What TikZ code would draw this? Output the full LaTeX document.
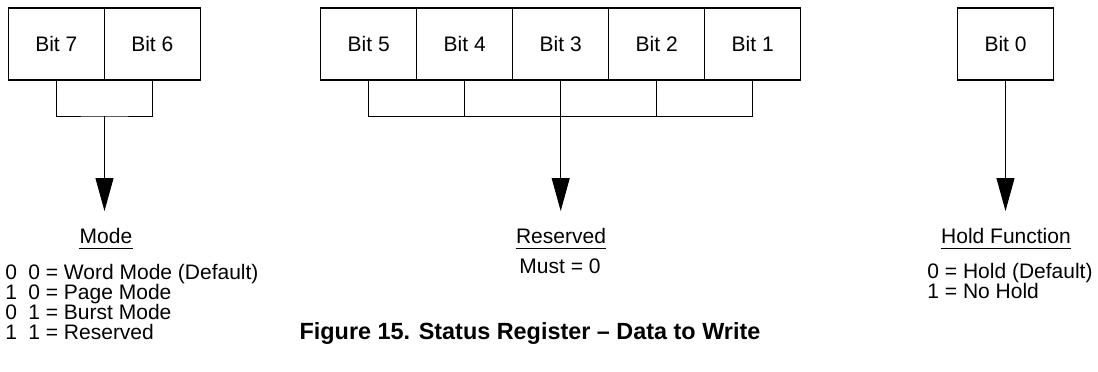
\documentclass[tikz,border=0pt]{standalone}
\usepackage{fontspec}
\setmainfont{Liberation Sans}
\usetikzlibrary{arrows.meta,positioning}

\begin{document}
\begin{tikzpicture}[x=0.5pt,y=-0.5pt,>={Triangle[width=9pt,length=16.5pt]},
  bitbox/.style={draw,line width=0.6pt,minimum width=48pt,minimum height=36pt,
    inner sep=0pt,outer sep=0pt,font=\fontsize{10.5}{12}\selectfont},
  link/.style={line width=0.45pt},
  fieldname/.style={inner sep=0pt,anchor=base,font=\fontsize{10.5}{12}\selectfont},
  legend/.style={inner sep=0pt,anchor=base west,font=\fontsize{10.5}{12}\selectfont},
  caption/.style={inner sep=0pt,anchor=base,font=\fontsize{11.7}{14}\selectfont\bfseries}]

\useasboundingbox (0,0) rectangle (1098,371);

% Register bits
\node[bitbox] (bit7) at (56.3,44) {Bit 7};
\node[bitbox,right=0pt of bit7] (bit6) {Bit 6};

\node[bitbox] (bit5) at (368.7,44) {Bit 5};
\node[bitbox,right=0pt of bit5] (bit4) {Bit 4};
\node[bitbox,right=0pt of bit4] (bit3) {Bit 3};
\node[bitbox,right=0pt of bit3] (bit2) {Bit 2};
\node[bitbox,right=0pt of bit2] (bit1) {Bit 1};

\node[bitbox] (bit0) at (1005.5,44) {Bit 0};

% Bracket and arrow points
\coordinate (modejoin) at (104.5,116);
\coordinate (modetip) at (104.5,211);
\coordinate (resjoin) at (bit3.south |- modejoin);
\coordinate (restip) at (bit3.south |- modetip);
\coordinate (holdtip) at (bit0.south |- modetip);

% Mode bits 7..6
\draw[link] (bit7.south) |- (modejoin) -| (bit6.south);
\draw[link,->] (modejoin) -- (modetip);

% Reserved bits 5..1
\draw[link] (bit5.south) |- (bit1.south |- resjoin) -- (bit1.south);
\draw[link] (bit4.south) -- (bit4.south |- resjoin);
\draw[link] (bit2.south) -- (bit2.south |- resjoin);
\draw[link,->] (bit3.south) -- (restip);

% Hold bit 0
\draw[link,->] (bit0.south) -- (holdtip);

% Field names
\node[fieldname] (mode) at (106,243) {Mode};
\node[fieldname] (reserved) at (561,243) {Reserved};
\node[fieldname] (hold) at (1006,243) {Hold Function};
\foreach \f in {mode,reserved,hold}
  \draw[line width=0.5pt] ([yshift=-2.5pt]\f.base west) -- ([yshift=-2.5pt]\f.base east);

% Values
\node[legend] (mode1) at (5,279) {\makebox[11.5pt][l]{0}0 = Word Mode (Default)};
\node[legend] (mode2) at (5,299) {\makebox[11.5pt][l]{1}0 = Page Mode};
\node[legend] (mode3) at (5,319) {\makebox[11.5pt][l]{0}1 = Burst Mode};
\node[legend] (mode4) at (5,339) {\makebox[11.5pt][l]{1}1 = Reserved};

\node[fieldname] (must) at (560,273) {Must = 0};

\node[legend] (hold1) at (927,278) {0 = Hold (Default)};
\node[legend] (hold2) at (927,298) {1 = No Hold};

\node[caption] (figcap) at (530,339) {Figure 15. Status Register -- Data to Write};

\end{tikzpicture}
\end{document}
